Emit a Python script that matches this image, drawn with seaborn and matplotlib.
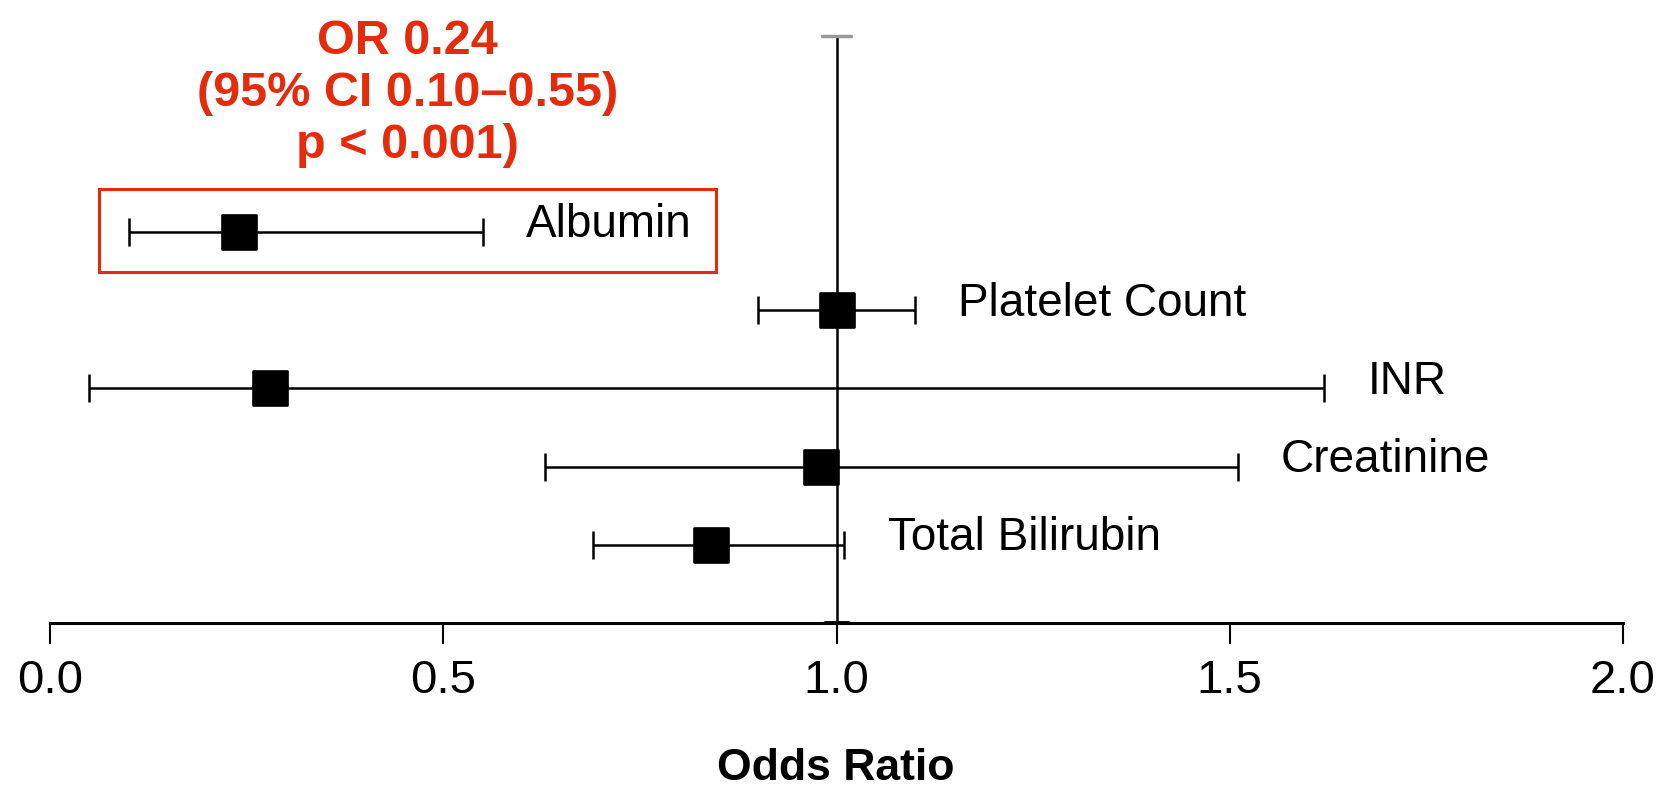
import matplotlib
matplotlib.use('Agg')
import matplotlib.pyplot as plt
import seaborn as sns
import pandas as pd
from matplotlib.patches import Rectangle

# Odds ratios with 95% CI, one row per predictor (top to bottom)
variables = ['Albumin', 'Platelet Count', 'INR', 'Creatinine', 'Total Bilirubin']
odds_ratio = [0.24, 1.00, 0.28, 0.98, 0.84]
ci_low = [0.10, 0.90, 0.05, 0.63, 0.69]
ci_high = [0.55, 1.10, 1.62, 1.51, 1.01]
rows = [5, 4, 3, 2, 1]
x_ticks = [0.0, 0.5, 1.0, 1.5, 2.0]
highlight_text = 'OR 0.24\n(95% CI 0.10\u20130.55)\np < 0.001)'

RED = '#e42b0c'


def main():
    sns.set_style('white')
    plt.rcParams['font.family'] = ['Liberation Sans', 'DejaVu Sans']
    plt.rcParams['text.color'] = 'black'
    plt.rcParams['xtick.color'] = 'black'
    plt.rcParams['axes.edgecolor'] = 'black'

    df = pd.DataFrame({'variable': variables, 'OR': odds_ratio,
                       'lo': ci_low, 'hi': ci_high, 'row': rows})

    fig = plt.figure(figsize=(16.69, 7.90), dpi=100)
    ax = fig.add_axes([50 / 1669, 167 / 790, 1573 / 1669, 623 / 790])
    ax.set_xlim(0, 2)
    ax.set_ylim(0, 623 / 78.25)

    # reference line at OR = 1
    ax.plot([1, 1], [0, 7.5], color='black', lw=1.8, zorder=1)
    ax.plot([0.981, 1.019], [7.5, 7.5], color='#999999', lw=2.5, zorder=1)
    ax.plot([0.985, 1.015], [0, 0], color='black', lw=3.5, zorder=1)

    ax.errorbar(df['OR'], df['row'],
                xerr=[df['OR'] - df['lo'], df['hi'] - df['OR']],
                fmt='none', ecolor='black', elinewidth=1.8,
                capsize=10, capthick=1.8, zorder=2)
    sns.scatterplot(data=df, x='OR', y='row', marker='s', s=24 ** 2,
                    color='black', edgecolor='black', ax=ax, zorder=3,
                    legend=False)

    for _, r in df.iterrows():
        ax.text(r['hi'] + 0.055, r['row'] + 0.08, r['variable'],
                fontsize=33, va='center', ha='left')

    # highlight box around albumin
    ax.add_patch(Rectangle((0.062, 4.48), 0.785, 1.06, fill=False,
                           edgecolor=RED, lw=2.2, zorder=4))
    ax.text(0.455, 6.77, highlight_text, color=RED, fontsize=35,
            fontweight='bold', ha='center', va='center', linespacing=1.2)

    for side in ['left', 'top', 'right']:
        ax.spines[side].set_visible(False)
    ax.spines['bottom'].set_bounds(0, 2)
    ax.spines['bottom'].set_linewidth(2.2)
    ax.set_xticks(x_ticks)
    ax.set_xticklabels([f'{t:.1f}' for t in x_ticks])
    ax.set_yticks([])
    ax.tick_params(axis='x', length=15, width=1.5, pad=11, labelsize=34,
                   bottom=True, direction='out')
    ax.set_xlabel('')
    ax.set_ylabel('')

    fig.text(0.501, 1 - 768 / 790, 'Odds Ratio', fontsize=32,
             fontweight='bold', ha='center', va='center')

    fig.savefig('out.png', dpi=100)


if __name__ == '__main__':
    main()
